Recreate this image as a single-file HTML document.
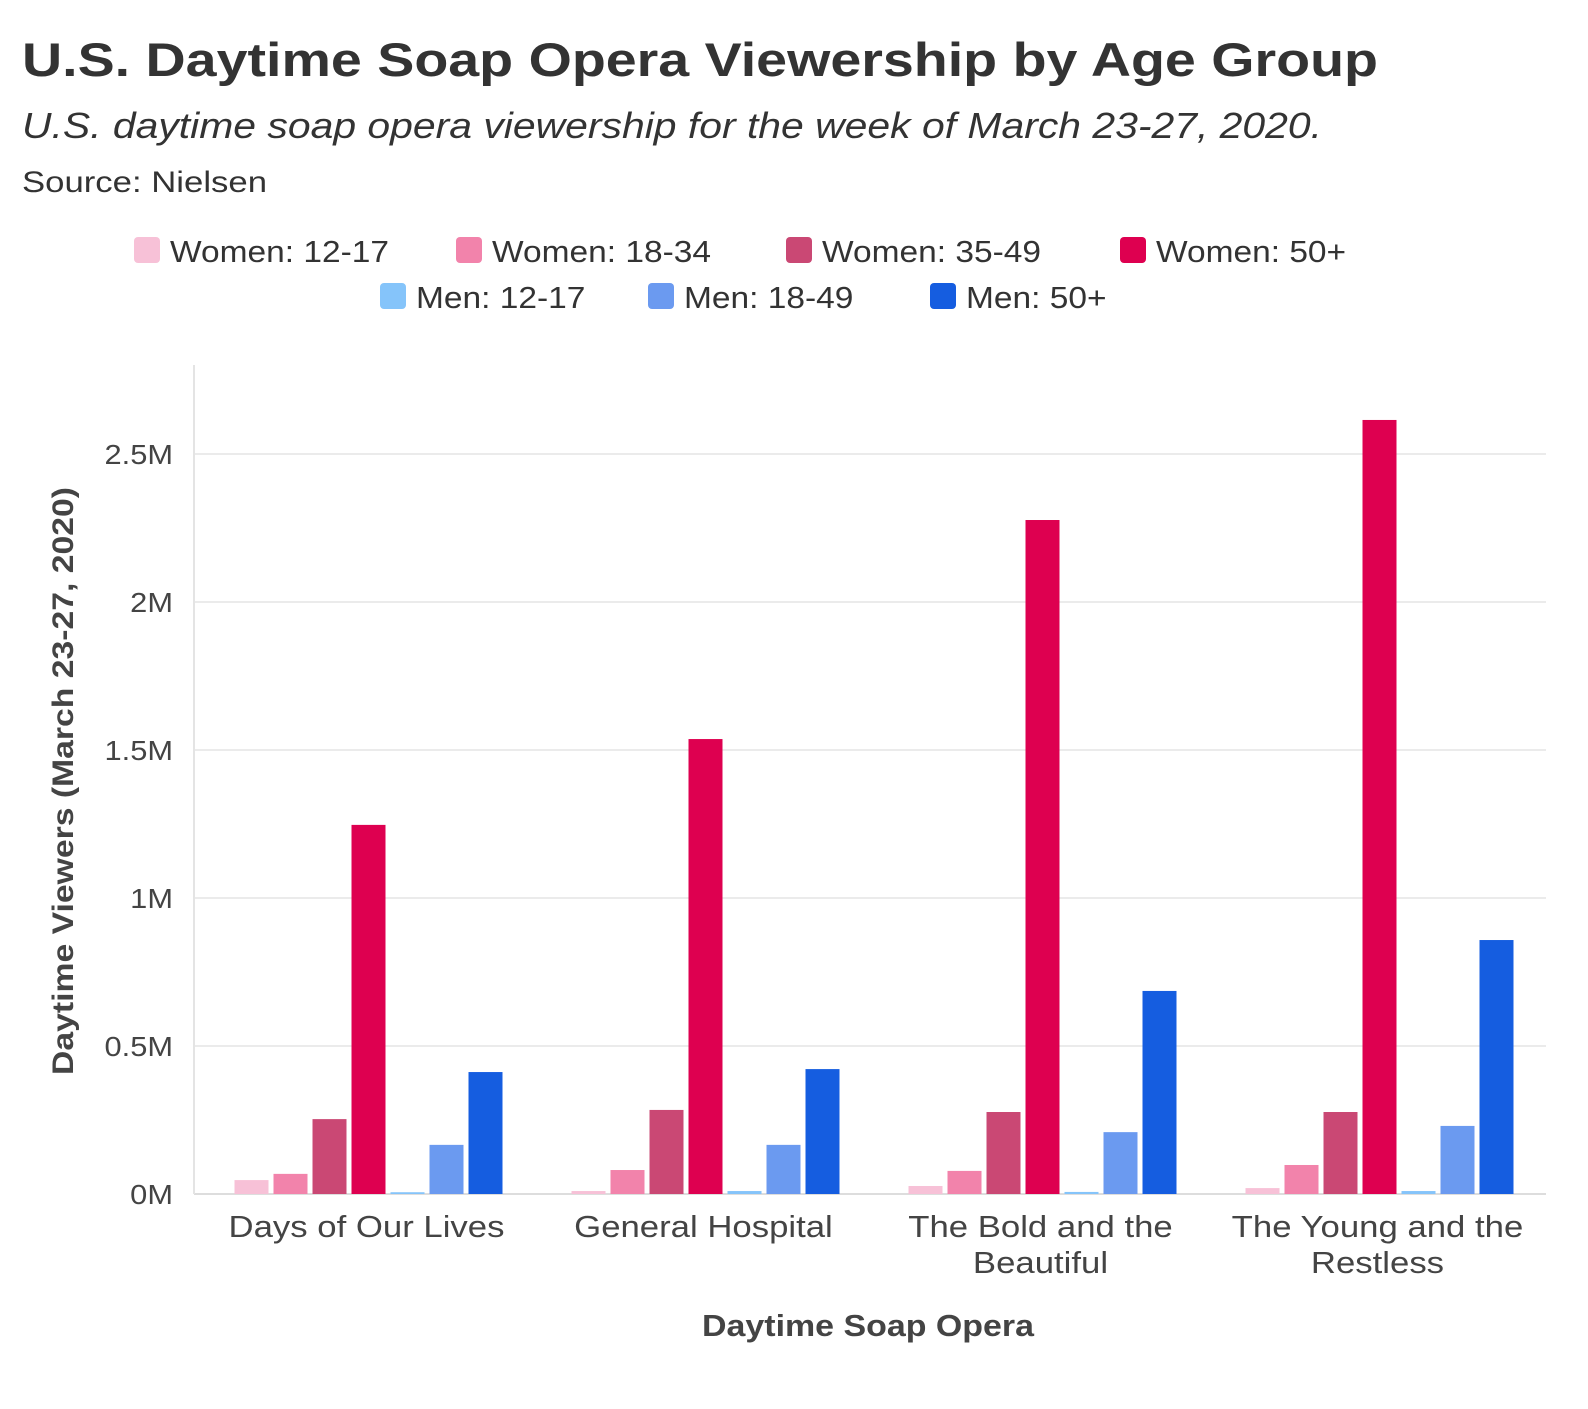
<!DOCTYPE html>
<html><head><meta charset="utf-8"><style>
body{margin:0;background:#fff;}
svg text{font-family:"Liberation Sans",sans-serif;}
</style></head><body>
<svg id="chart" width="1588" height="1404" xmlns="http://www.w3.org/2000/svg">
<text x="22" y="76" font-size="47" font-weight="bold" fill="#333" textLength="1356" lengthAdjust="spacingAndGlyphs">U.S. Daytime Soap Opera Viewership by Age Group</text>
<text x="22" y="138" font-size="36" font-style="italic" fill="#333" textLength="1300" lengthAdjust="spacingAndGlyphs">U.S. daytime soap opera viewership for the week of March 23-27, 2020.</text>
<text x="22" y="192" font-size="30" fill="#333" textLength="245" lengthAdjust="spacingAndGlyphs">Source: Nielsen</text>
<g id="legend"></g>
<g id="grid"></g>
<g id="bars"></g>
<g id="axes"></g>
<text transform="translate(73,781) rotate(-90)" text-anchor="middle" font-size="30" font-weight="bold" fill="#444" textLength="588" lengthAdjust="spacingAndGlyphs">Daytime Viewers (March 23-27, 2020)</text>
<text x="868" y="1336" text-anchor="middle" font-size="31" font-weight="bold" fill="#444" textLength="332" lengthAdjust="spacingAndGlyphs">Daytime Soap Opera</text>
</svg>
<script>
const categories = [["Days of Our Lives"],["General Hospital"],["The Bold and the","Beautiful"],["The Young and the","Restless"]];
const seriesNames = ["Women: 12-17","Women: 18-34","Women: 35-49","Women: 50+","Men: 12-17","Men: 18-49","Men: 50+"];
const seriesColors = ["#f7c1d7","#f283ab","#ca4874","#de0050","#85c4fa","#6b9af0","#155de0"];
const wom1217 = [0.047,0.010,0.027,0.020];
const wom1834 = [0.068,0.081,0.078,0.098];
const wom3549 = [0.253,0.284,0.277,0.277];
const wom50 = [1.247,1.537,2.277,2.615];
const men1217 = [0.006,0.010,0.007,0.010];
const men1849 = [0.166,0.166,0.209,0.230];
const men50 = [0.412,0.422,0.686,0.858];
const yTicks = [0,0.5,1,1.5,2,2.5];
const yTickLabels = ["0M","0.5M","1M","1.5M","2M","2.5M"];
const series = [wom1217,wom1834,wom3549,wom50,men1217,men1849,men50];

const NS="http://www.w3.org/2000/svg";
const X0=198,X1=1546,Y0=1194,YT=365;
const yScale=v=>Y0-v*296;
const band=(X1-X0)/categories.length;
const pitch=39,bw=34;
function mk(tag,attrs,parent){const e=document.createElementNS(NS,tag);for(const k in attrs)e.setAttribute(k,attrs[k]);parent.appendChild(e);return e;}
function stretch(t,f){const w=t.getComputedTextLength();t.setAttribute('textLength',(w*f).toFixed(1));t.setAttribute('lengthAdjust','spacingAndGlyphs');}
const grid=document.getElementById('grid'),bars=document.getElementById('bars'),axes=document.getElementById('axes'),legend=document.getElementById('legend');
yTicks.forEach((t,i)=>{
  const y=yScale(t);
  const l=mk('line',{x1:X0-4,x2:X1,y1:y,y2:y,stroke:i===0?'#ddd':'#ebebeb','stroke-width':2},grid);
  
  
  const tx=mk('text',{x:173,y:y+10,'text-anchor':'end','font-size':28,fill:'#444'},axes);
  tx.textContent=yTickLabels[i];
  
  
  stretch(tx,1.1);
});
const ya=mk('line',{x1:194,x2:194,y1:YT,y2:Y0,stroke:'#e4e4e4','stroke-width':2},axes);


categories.forEach((c,ci)=>{
  const cx=X0+band*(ci+0.5);
  const start=cx-(7*pitch-5)/2+2;
  series.forEach((s,si)=>{
    const y=yScale(s[ci]);
    const r=mk('rect',{x:start+si*pitch,y:y,width:bw,height:Y0-y,fill:seriesColors[si]},bars);
    
    
  });
  c.forEach((line,li)=>{
    const t=mk('text',{x:cx,y:1237+li*36,'text-anchor':'middle','font-size':31,fill:'#444'},axes);
    t.textContent=line;
    
    
    stretch(t,1.12);
  });
});
const legPos=[[134,251],[456,251],[786,251],[1120,251],[380,297],[648,297],[930,297]];
seriesNames.forEach((n,i)=>{
  const [x,y]=legPos[i];
  const g=mk('g',{},legend);
  
  
  mk('rect',{x:x,y:y-14,width:26,height:26,rx:4,fill:seriesColors[i]},g);
  const t=mk('text',{x:x+36,y:y+11,'font-size':31,fill:'#333'},g);
  t.textContent=n;
  stretch(t,1.08);
});
</script>
</body></html>
